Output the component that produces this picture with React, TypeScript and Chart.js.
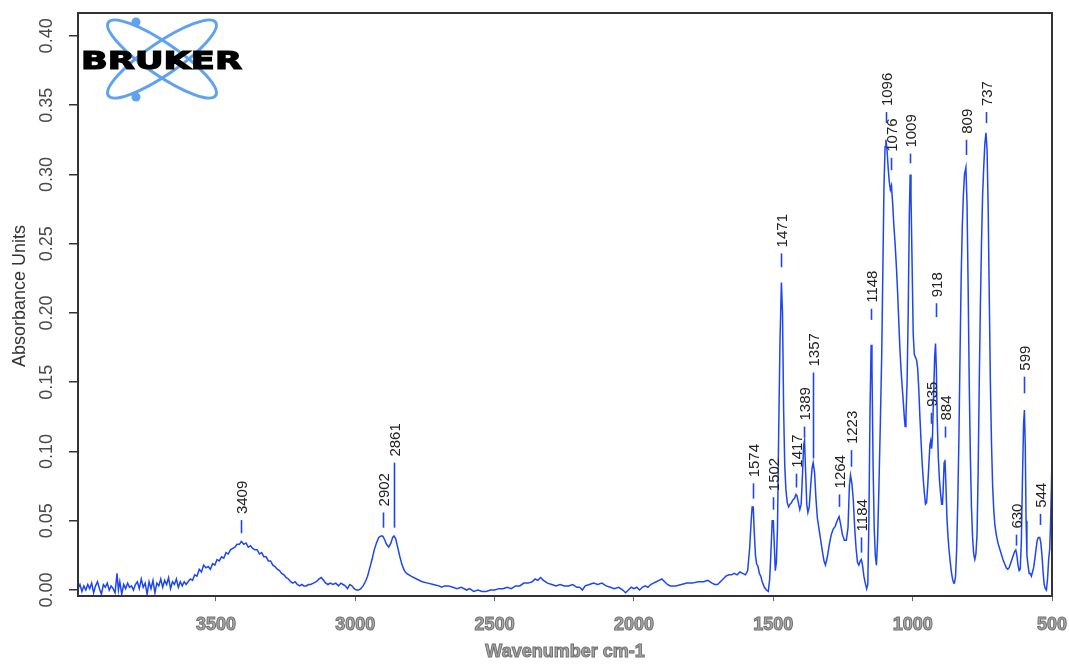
import React, { useEffect, useRef } from "react";
import { Chart, registerables } from "chart.js";

Chart.register(...registerables);

// ---- data ----
const wavenumbers: number[] = [
  3995, 3988, 3981, 3974, 3967, 3960, 3953, 3946, 3939, 3932, 3925, 3918, 3911, 3904, 3897, 3890, 3883, 3876, 3869, 3862,
  3855, 3850, 3845, 3838, 3831, 3824, 3817, 3810, 3803, 3796, 3789, 3782, 3775, 3768, 3761, 3754, 3747, 3740, 3733, 3726,
  3719, 3712, 3705, 3698, 3691, 3684, 3677, 3670, 3663, 3656, 3649, 3642, 3635, 3628, 3621, 3614, 3607, 3600, 3592, 3584,
  3576, 3568, 3560, 3552, 3544, 3536, 3528, 3520, 3512, 3504, 3496, 3488, 3480, 3472, 3464, 3456, 3448, 3440, 3432, 3424,
  3416, 3409, 3400, 3392, 3384, 3376, 3368, 3360, 3352, 3344, 3336, 3328, 3320, 3312, 3304, 3296, 3288, 3280, 3272, 3264,
  3256, 3248, 3240, 3232, 3224, 3216, 3208, 3200, 3192, 3184, 3176, 3168, 3160, 3150, 3140, 3130, 3122, 3114, 3106, 3098,
  3090, 3080, 3070, 3060, 3052, 3044, 3036, 3028, 3020, 3012, 3004, 2996, 2988, 2980, 2972, 2964, 2956, 2948, 2940, 2932,
  2924, 2916, 2908, 2902, 2896, 2888, 2880, 2872, 2866, 2861, 2855, 2848, 2840, 2832, 2824, 2816, 2800, 2780, 2760, 2740,
  2720, 2700, 2690, 2680, 2665, 2650, 2635, 2620, 2600, 2590, 2575, 2560, 2545, 2530, 2515, 2500, 2485, 2470, 2455, 2440,
  2425, 2410, 2395, 2380, 2365, 2355, 2345, 2335, 2325, 2310, 2295, 2280, 2265, 2250, 2235, 2220, 2205, 2195, 2185, 2175,
  2160, 2145, 2130, 2115, 2100, 2085, 2070, 2055, 2040, 2030, 2020, 2010, 2000, 1990, 1980, 1970, 1960, 1950, 1940, 1930,
  1920, 1910, 1900, 1890, 1880, 1870, 1860, 1850, 1830, 1810, 1790, 1770, 1750, 1735, 1720, 1710, 1700, 1690, 1680, 1670,
  1660, 1650, 1640, 1630, 1620, 1610, 1600, 1592, 1585, 1580, 1576, 1572, 1568, 1564, 1560, 1555, 1550, 1545, 1540, 1532,
  1525, 1518, 1513, 1508, 1504, 1500, 1496, 1493, 1489, 1485, 1481, 1476, 1471, 1467, 1463, 1459, 1455, 1450, 1445, 1440,
  1435, 1430, 1424, 1419, 1415, 1411, 1405, 1400, 1395, 1391, 1388, 1384, 1380, 1376, 1371, 1366, 1361, 1357, 1352, 1347,
  1342, 1336, 1330, 1324, 1318, 1313, 1306, 1299, 1292, 1285, 1278, 1271, 1264, 1258, 1252, 1245, 1238, 1232, 1227, 1223,
  1218, 1213, 1208, 1203, 1198, 1193, 1188, 1184, 1180, 1175, 1170, 1165, 1161, 1157, 1153, 1149, 1146, 1142, 1138, 1134,
  1130, 1126, 1121, 1116, 1111, 1107, 1103, 1099, 1096, 1092, 1088, 1084, 1080, 1076, 1072, 1068, 1063, 1058, 1054, 1050,
  1046, 1042, 1038, 1034, 1030, 1027, 1024, 1020, 1016, 1012, 1009, 1006, 1002, 998, 994, 990, 986, 982, 978, 974,
  970, 966, 962, 958, 954, 950, 946, 942, 938, 935, 932, 929, 925, 921, 918, 915, 912, 908, 904, 900,
  896, 893, 890, 887, 884, 881, 877, 873, 869, 865, 861, 857, 853, 850, 846, 842, 838, 834, 830, 826,
  822, 818, 814, 809, 805, 801, 797, 793, 789, 785, 781, 777, 773, 769, 765, 761, 757, 753, 749, 745,
  741, 737, 733, 729, 725, 721, 717, 713, 709, 705, 700, 694, 688, 682, 676, 670, 664, 659, 654, 649,
  644, 639, 634, 630, 626, 622, 618, 614, 610, 606, 602, 599, 596, 593, 590, 586, 582, 578, 574, 570,
  566, 562, 557, 553, 549, 544, 540, 536, 532, 528, 524, 520, 516, 512, 508, 505, 502, 500,
];

const absorbance: number[] = [
  0.001, 0.004, -0.001, 0.003, 0.0, 0.004, 0.001, 0.005, -0.002, 0.003, 0.006, 0.001, -0.003, 0.004, 0.002, 0.005, 0.0, 0.003, 0.001, -0.002,
  0.012, 0.0, 0.006, -0.003, 0.004, 0.001, 0.005, 0.002, 0.003, 0.0, 0.004, 0.006, 0.001, 0.008, 0.002, 0.005, -0.003, 0.006, 0.001, 0.007,
  -0.002, 0.005, 0.003, 0.008, 0.002, 0.007, 0.004, 0.009, 0.001, 0.006, 0.004, 0.008, 0.002, 0.006, 0.003, 0.006, 0.004, 0.006, 0.008, 0.007,
  0.011, 0.01, 0.015, 0.013, 0.018, 0.016, 0.017, 0.015, 0.019, 0.018, 0.022, 0.021, 0.024, 0.023, 0.027, 0.026, 0.029, 0.03, 0.031, 0.033,
  0.033, 0.035, 0.033, 0.034, 0.031, 0.032, 0.03, 0.029, 0.029, 0.026, 0.027, 0.024, 0.024, 0.021, 0.021, 0.018, 0.017, 0.015, 0.014, 0.012,
  0.011, 0.009, 0.008, 0.006, 0.005, 0.006, 0.004, 0.003, 0.004, 0.003, 0.003, 0.004, 0.004, 0.005, 0.006, 0.008, 0.009, 0.007, 0.005, 0.004,
  0.005, 0.004, 0.005, 0.003, 0.005, 0.004, 0.003, 0.001, 0.004, 0.003, 0.001, 0.0, 0.0, 0.001, 0.003, 0.006, 0.01, 0.016, 0.022, 0.029,
  0.034, 0.038, 0.039, 0.039, 0.037, 0.033, 0.031, 0.034, 0.038, 0.039, 0.037, 0.031, 0.024, 0.018, 0.014, 0.012, 0.01, 0.008, 0.006, 0.005,
  0.004, 0.003, 0.002, 0.003, 0.003, 0.002, 0.001, 0.002, 0.0, 0.001, -0.001, 0.0, -0.001, -0.001, 0.0, 0.0, 0.001, 0.001, 0.002, 0.001,
  0.003, 0.003, 0.005, 0.005, 0.006, 0.008, 0.007, 0.009, 0.007, 0.005, 0.004, 0.003, 0.004, 0.003, 0.003, 0.004, 0.002, 0.002, 0.0, 0.003,
  0.004, 0.005, 0.004, 0.005, 0.003, 0.002, 0.001, 0.002, 0.0, -0.002, 0.0, 0.002, 0.001, 0.002, 0.0, 0.002, 0.003, 0.002, 0.004, 0.005,
  0.006, 0.007, 0.008, 0.006, 0.004, 0.003, 0.003, 0.003, 0.004, 0.005, 0.005, 0.006, 0.006, 0.007, 0.005, 0.004, 0.004, 0.006, 0.008, 0.01,
  0.011, 0.011, 0.012, 0.011, 0.013, 0.012, 0.011, 0.014, 0.03, 0.048, 0.06, 0.06, 0.04, 0.025, 0.019, 0.017, 0.012, 0.01, 0.006, 0.002,
  0.0, -0.001, 0.008, 0.03, 0.05, 0.05, 0.03, 0.014, 0.02, 0.045, 0.11, 0.18, 0.222, 0.2, 0.13, 0.09, 0.073, 0.063, 0.06, 0.062,
  0.063, 0.065, 0.066, 0.069, 0.068, 0.064, 0.058, 0.062, 0.085, 0.105, 0.108, 0.085, 0.062, 0.056, 0.06, 0.075, 0.088, 0.092, 0.085, 0.066,
  0.052, 0.044, 0.036, 0.028, 0.021, 0.018, 0.024, 0.033, 0.04, 0.044, 0.046, 0.05, 0.053, 0.047, 0.04, 0.036, 0.036, 0.045, 0.075, 0.083,
  0.077, 0.065, 0.045, 0.03, 0.02, 0.018, 0.021, 0.022, 0.018, 0.01, 0.005, 0.001, 0.004, 0.05, 0.13, 0.177, 0.16, 0.09, 0.045, 0.025,
  0.018, 0.035, 0.075, 0.12, 0.17, 0.23, 0.29, 0.32, 0.325, 0.318, 0.305, 0.295, 0.289, 0.292, 0.28, 0.265, 0.25, 0.232, 0.215, 0.195,
  0.175, 0.16, 0.148, 0.137, 0.125, 0.118, 0.125, 0.15, 0.2, 0.27, 0.3, 0.285, 0.235, 0.185, 0.17, 0.168, 0.166, 0.16, 0.145, 0.125,
  0.108, 0.092, 0.08, 0.07, 0.062, 0.063, 0.075, 0.09, 0.105, 0.108, 0.102, 0.11, 0.14, 0.168, 0.178, 0.16, 0.125, 0.096, 0.08, 0.07,
  0.062, 0.062, 0.075, 0.092, 0.094, 0.078, 0.052, 0.038, 0.028, 0.02, 0.013, 0.008, 0.005, 0.005, 0.01, 0.03, 0.065, 0.11, 0.17, 0.225,
  0.262, 0.285, 0.3, 0.305, 0.28, 0.22, 0.15, 0.097, 0.06, 0.038, 0.026, 0.022, 0.026, 0.04, 0.085, 0.15, 0.205, 0.25, 0.285, 0.305,
  0.322, 0.33, 0.318, 0.275, 0.21, 0.148, 0.105, 0.075, 0.058, 0.047, 0.04, 0.034, 0.03, 0.026, 0.022, 0.019, 0.016, 0.015, 0.016, 0.019,
  0.022, 0.025, 0.028, 0.029, 0.025, 0.018, 0.014, 0.015, 0.035, 0.08, 0.12, 0.13, 0.105, 0.05, 0.025, 0.018, 0.012, 0.012, 0.01, 0.013,
  0.016, 0.022, 0.03, 0.036, 0.038, 0.038, 0.034, 0.025, 0.013, 0.004, 0.001, 0.0, 0.008, 0.022, 0.03, 0.05, 0.075, 0.098,
];

// peak annotations
const peakWavenumbers: number[] = [3409, 2902, 2861, 1574, 1502, 1471, 1417, 1389, 1357, 1264, 1223, 1184, 1148, 1096, 1076, 1009, 935, 918, 884, 809, 737, 630, 599, 544];
const peakLabels: string[] = ["3409", "2902", "2861", "1574", "1502", "1471", "1417", "1389", "1357", "1264", "1223", "1184", "1148", "1096", "1076", "1009", "935", "918", "884", "809", "737", "630", "599", "544"];
const peakMarkTop: number[] = [0.0505, 0.056, 0.092, 0.077, 0.067, 0.243, 0.084, 0.118, 0.157, 0.069, 0.101, 0.038, 0.203, 0.345, 0.312, 0.315, 0.128, 0.207, 0.118, 0.325, 0.345, 0.04, 0.154, 0.055];
const peakMarkBottom: number[] = [0.041, 0.045, 0.045, 0.066, 0.058, 0.233, 0.074, 0.11, 0.095, 0.06, 0.089, 0.027, 0.195, 0.337, 0.303, 0.308, 0.12, 0.197, 0.11, 0.314, 0.337, 0.032, 0.142, 0.047];

// axes
const xTicks: number[] = [3500, 3000, 2500, 2000, 1500, 1000, 500];
const yTicks: number[] = [0, 0.05, 0.1, 0.15, 0.2, 0.25, 0.3, 0.35, 0.4];
const xMin = 500;
const xMax = 3995;
const yMin = -0.0043;
const yMax = 0.4165;
const xTitle = "Wavenumber cm-1";
const yTitle = "Absorbance Units";
const logoText = "BRUKER";

const FONT = "'Liberation Sans', Arial, sans-serif";

const decorPlugin = {
  id: "decor",
  afterDraw(chart: any) {
    const { ctx, chartArea: ca, scales } = chart;
    const xs = scales.x;
    const ys = scales.y;
    ctx.save();

    // frame
    ctx.strokeStyle = "#333";
    ctx.lineWidth = 2;
    ctx.strokeRect(ca.left, ca.top, ca.right - ca.left, ca.bottom - ca.top);

    // y tick labels (rotated)
    ctx.fillStyle = "#4a4a4a";
    ctx.font = `18px ${FONT}`;
    ctx.textAlign = "center";
    ctx.textBaseline = "middle";
    ys.ticks.forEach((t: any) => {
      const y = ys.getPixelForValue(t.value);
      ctx.save();
      ctx.translate(47, y);
      ctx.rotate(-Math.PI / 2);
      ctx.fillText(t.value.toFixed(2), 0, 0);
      ctx.restore();
    });

    // x tick labels (outlined grey)
    ctx.font = `bold 18px ${FONT}`;
    ctx.fillStyle = "#ababab";
    ctx.strokeStyle = "#707070";
    ctx.lineWidth = 1;
    xs.ticks.forEach((t: any) => {
      const x = xs.getPixelForValue(t.value);
      ctx.fillText(String(t.value), x, 625);
      ctx.strokeText(String(t.value), x, 625);
    });

    // x title
    ctx.fillText(xTitle, (ca.left + ca.right) / 2, 652);
    ctx.strokeText(xTitle, (ca.left + ca.right) / 2, 652);

    // y title
    ctx.save();
    ctx.translate(20, 296);
    ctx.rotate(-Math.PI / 2);
    ctx.fillStyle = "#333";
    ctx.font = `18px ${FONT}`;
    ctx.fillText(yTitle, 0, 0);
    ctx.restore();

    // peak marks and labels
    ctx.strokeStyle = "#1e46f0";
    ctx.lineWidth = 1.6;
    ctx.fillStyle = "#222";
    ctx.font = `15px ${FONT}`;
    ctx.textAlign = "left";
    ctx.textBaseline = "middle";
    peakWavenumbers.forEach((wn, i) => {
      const x = Math.round(xs.getPixelForValue(wn)) + 0.5;
      const yTop = ys.getPixelForValue(peakMarkTop[i]);
      const yBot = ys.getPixelForValue(peakMarkBottom[i]);
      ctx.beginPath();
      ctx.moveTo(x, yTop);
      ctx.lineTo(x, yBot);
      ctx.stroke();
      ctx.save();
      ctx.translate(x + 1, yTop - 6);
      ctx.rotate(-Math.PI / 2);
      ctx.fillText(peakLabels[i], 0, 0);
      ctx.restore();
    });

    // logo
    const cx = 162;
    const cy = 59;
    ctx.strokeStyle = "#5fa2f2";
    ctx.lineWidth = 3;
    [0.6, -0.6].forEach((ang) => {
      ctx.beginPath();
      ctx.ellipse(cx, cy, 65, 16, ang, 0, Math.PI * 2);
      ctx.stroke();
    });
    ctx.fillStyle = "#5fa2f2";
    [[136, 22], [136, 97]].forEach(([px, py]) => {
      ctx.beginPath();
      ctx.arc(px, py, 4.5, 0, Math.PI * 2);
      ctx.fill();
    });
    ctx.save();
    ctx.font = `bold 24px 'DejaVu Sans', sans-serif`;
    ctx.fillStyle = "#000";
    ctx.textAlign = "left";
    ctx.textBaseline = "alphabetic";
    const w = ctx.measureText(logoText).width;
    ctx.translate(81, 69);
    ctx.scale(161 / w, 1);
    ctx.lineWidth = 1.2;
    ctx.strokeStyle = "#000";
    ctx.fillText(logoText, 0, 0);
    ctx.strokeText(logoText, 0, 0);
    ctx.restore();

    ctx.restore();
  },
};

export default function App() {
  const canvasRef = useRef<HTMLCanvasElement | null>(null);

  useEffect(() => {
    if (!canvasRef.current) return;
    const points = wavenumbers.map((w, i) => ({ x: w, y: absorbance[i] }));
    const chart = new Chart(canvasRef.current, {
      type: "line",
      data: {
        datasets: [
          {
            data: points,
            borderColor: "#1e46f0",
            borderWidth: 1.5,
            pointRadius: 0,
            tension: 0,
            fill: false,
          },
        ],
      },
      options: {
        animation: false,
        responsive: true,
        maintainAspectRatio: false,
        layout: { padding: { top: 13, right: 17, left: 0, bottom: 0 } },
        plugins: { legend: { display: false }, tooltip: { enabled: false } },
        scales: {
          x: {
            type: "linear",
            reverse: true,
            min: xMin,
            max: xMax,
            afterBuildTicks: (scale: any) => {
              scale.ticks = xTicks.map((v) => ({ value: v }));
            },
            afterFit: (scale: any) => {
              scale.height = 68;
            },
            ticks: { display: false },
            border: { display: false },
            grid: { display: true, drawOnChartArea: false, drawTicks: true, tickLength: 5, color: "#666", lineWidth: 1 },
          },
          y: {
            type: "linear",
            min: yMin,
            max: yMax,
            afterBuildTicks: (scale: any) => {
              scale.ticks = yTicks.map((v) => ({ value: v }));
            },
            afterFit: (scale: any) => {
              scale.width = 78;
            },
            ticks: { display: false },
            border: { display: false },
            grid: { display: true, drawOnChartArea: false, drawTicks: true, tickLength: 9, color: "#333", lineWidth: 1.5 },
          },
        },
      },
      plugins: [decorPlugin],
    });
    return () => chart.destroy();
  }, []);

  return (
    <div style={{ position: "fixed", left: 0, top: 0, width: 1069, height: 664, background: "#fff" }}>
      <canvas ref={canvasRef} />
    </div>
  );
}
